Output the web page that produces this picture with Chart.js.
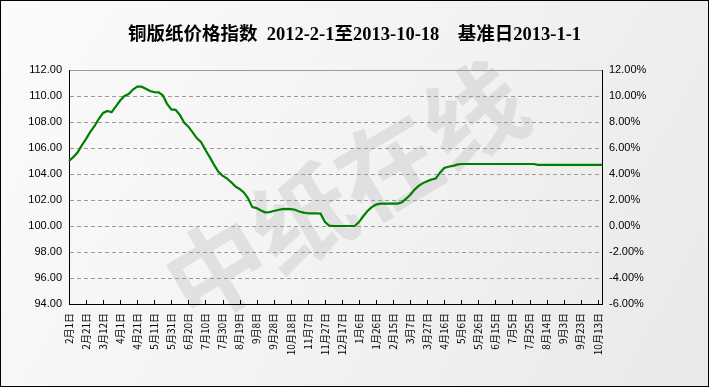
<!DOCTYPE html>
<html>
<head>
<meta charset="utf-8">
<script src="https://cdn.jsdelivr.net/npm/chart.js@4.4.0/dist/chart.umd.min.js"></script>
<style>
    html, body { margin: 0; padding: 0; background: #fff; }
    #wrap { width: 709px; height: 387px; }
</style>
</head>
<body>
<div id="wrap"><canvas id="priceChart" width="709" height="387"></canvas></div>
<script>
/* 铜版纸价格指数 2012-2-1 ~ 2013-10-18 (5日毎の読み取り値) */

const titleText = '铜版纸价格指数  2012-2-1至2013-10-18    基准日2013-1-1';
const watermarkText = '中纸在线';

// 目盛ラベル（20日毎）
const tickLabels = [
    '2月1日', '2月21日', '3月12日', '4月1日', '4月21日', '5月11日', '5月31日', '6月20日',
    '7月10日', '7月30日', '8月19日', '9月8日', '9月28日', '10月18日', '11月7日', '11月27日',
    '12月17日', '1月6日', '1月26日', '2月15日', '3月7日', '3月27日', '4月16日', '5月6日',
    '5月26日', '6月15日', '7月5日', '7月25日', '8月14日', '9月3日', '9月23日', '10月13日'
];
const pointsPerTick = 4;

// 指数値（5日毎, 126点）
const indexValues = [
    105.0, 105.3, 105.65, 106.2, 106.7, 107.25, 107.7, 108.25, 108.7, 108.85,
    108.75, 109.2, 109.65, 110.0, 110.15, 110.5, 110.72, 110.72, 110.56, 110.38,
    110.3, 110.28, 110.05, 109.4, 108.97, 108.93, 108.54, 107.95, 107.64, 107.2,
    106.74, 106.45, 105.85, 105.3, 104.72, 104.18, 103.88, 103.67, 103.38, 103.05,
    102.85, 102.58, 102.13, 101.45, 101.38, 101.2, 101.05, 101.07, 101.15, 101.23,
    101.3, 101.31, 101.3, 101.25, 101.12, 101.03, 100.98, 100.97, 100.97, 100.95,
    100.33, 100.03, 100.0, 100.0, 100.0, 100.0, 100.0, 100.0, 100.3, 100.75,
    101.15, 101.45, 101.65, 101.72, 101.72, 101.72, 101.72, 101.72, 101.8, 102.08,
    102.38, 102.78, 103.08, 103.3, 103.45, 103.58, 103.65, 104.1, 104.46, 104.56,
    104.62, 104.72, 104.77, 104.77, 104.77, 104.77, 104.77, 104.77, 104.77, 104.77,
    104.77, 104.77, 104.77, 104.77, 104.77, 104.77, 104.77, 104.77, 104.77, 104.77,
    104.7, 104.7, 104.7, 104.7, 104.7, 104.7, 104.7, 104.7, 104.7, 104.7,
    104.7, 104.7, 104.7, 104.7, 104.7, 104.7
];

// 左軸（指数）と右軸（変化率%）
const leftMin = 94, leftMax = 112;
const rightMin = -6, rightMax = 12;
const axisStep = 2;

const categoryLabels = indexValues.map((_, i) =>
    i % pointsPerTick === 0 ? (tickLabels[i / pointsPerTick] || '') : '');

const tickFont = { family: '"Liberation Sans", "Noto Sans CJK SC", sans-serif', size: 11 };
const cjkFont = { family: '"Noto Sans CJK SC", sans-serif', size: 10 };

// 背景と透かし
const backgroundPlugin = {
    id: 'background',
    beforeDraw(chart) {
        const { ctx, width, height } = chart;
        ctx.save();
        const g = ctx.createLinearGradient(0, 0, width, height);
        g.addColorStop(0, '#fbfbfb');
        g.addColorStop(0.5, '#f3f3f3');
        g.addColorStop(1, '#e9e9e9');
        ctx.fillStyle = g;
        ctx.fillRect(0, 0, width, height);

        ctx.translate(345, 192);
        ctx.rotate(-31 * Math.PI / 180);
        ctx.font = 'bold 100px "Noto Sans CJK SC"';
        ctx.fillStyle = 'rgba(195,195,195,0.4)';
        ctx.textAlign = 'center';
        ctx.textBaseline = 'middle';
        ctx.fillText(watermarkText, 0, 0);
        ctx.restore();
    }
};

// 内向きの目盛線と外枠
const framePlugin = {
    id: 'frame',
    afterDraw(chart) {
        const { ctx, width, height, chartArea } = chart;
        const xScale = chart.scales.x;
        ctx.save();
        ctx.strokeStyle = '#000';
        ctx.lineWidth = 1;
        ctx.beginPath();
        xScale.ticks.forEach((t, i) => {
            if (!categoryLabels[t.value]) return;
            const px = Math.round(xScale.getPixelForTick(i)) + 0.5;
            ctx.moveTo(px, chartArea.bottom);
            ctx.lineTo(px, chartArea.bottom - 4);
        });
        ctx.stroke();
        ctx.strokeRect(0.5, 0.5, width - 1, height - 1);
        ctx.restore();
    }
};

new Chart(document.getElementById('priceChart'), {
    type: 'line',
    data: {
        labels: categoryLabels,
        datasets: [{
            data: indexValues,
            borderColor: '#008000',
            borderWidth: 2.2,
            pointRadius: 0,
            tension: 0,
            fill: false,
            yAxisID: 'y'
        }]
    },
    options: {
        responsive: false,
        animation: false,
        layout: { padding: 0 },
        plugins: {
            legend: { display: false },
            tooltip: { enabled: false },
            title: {
                display: true,
                text: titleText,
                color: '#000',
                font: { family: '"Liberation Serif", "Noto Sans CJK SC", serif', size: 18.5, weight: 'bold' },
                padding: { top: 24, bottom: 23.8 }
            }
        },
        scales: {
            x: {
                type: 'category',
                offset: false,
                afterFit: s => { s.height = 83; },
                grid: { display: true, drawOnChartArea: false, drawTicks: false },
                border: { color: '#000', width: 1 },
                ticks: {
                    autoSkip: false,
                    maxRotation: 90,
                    minRotation: 90,
                    padding: 9,
                    color: '#000',
                    font: cjkFont,
                    callback: (v, i) => categoryLabels[v]
                }
            },
            y: {
                position: 'left',
                min: leftMin,
                max: leftMax,
                afterFit: s => { s.width = 69; },
                grid: { color: '#9a9a9a', lineWidth: 1, drawTicks: false },
                border: {
                    color: '#000',
                    width: 1,
                    dash: c => (c.tick && c.tick.value === leftMax) ? [] : [4, 3]
                },
                ticks: {
                    stepSize: axisStep,
                    padding: 7,
                    color: '#000',
                    font: tickFont,
                    callback: v => v.toFixed(2)
                }
            },
            y1: {
                position: 'right',
                min: rightMin,
                max: rightMax,
                afterFit: s => { s.width = 107; },
                grid: { drawOnChartArea: false, drawTicks: false },
                border: { color: '#000', width: 1 },
                ticks: {
                    stepSize: axisStep,
                    padding: 7,
                    color: '#000',
                    font: tickFont,
                    callback: v => v.toFixed(2) + '%'
                }
            }
        }
    },
    plugins: [backgroundPlugin, framePlugin]
});
</script>
</body>
</html>
